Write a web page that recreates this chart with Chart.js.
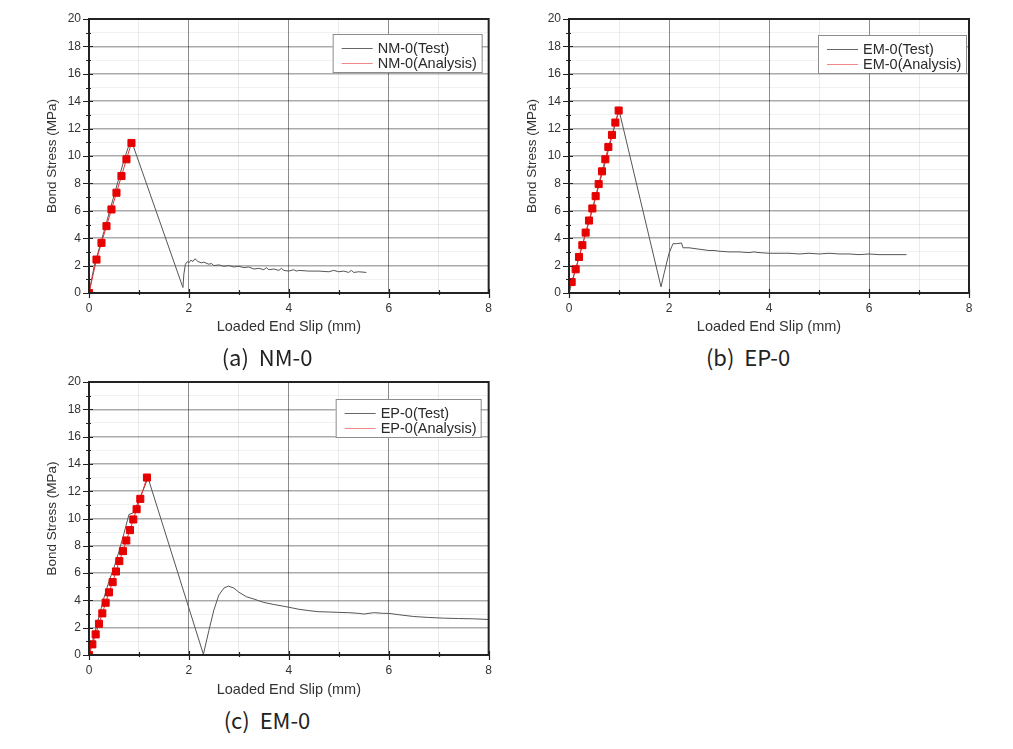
<!DOCTYPE html>
<html>
<head>
<meta charset="utf-8">
<script src="https://cdn.jsdelivr.net/npm/chart.js@4.4.1/dist/chart.umd.min.js"></script>
<style>
  body { margin: 0; background: #fff; width: 1013px; height: 749px; position: relative; overflow: hidden; }
  .panel { position: absolute; }
  .cap { position: absolute; font-family: "Noto Sans CJK KR", sans-serif; font-size: 22px; color: #222;
         transform: translate(-50%, -50%); white-space: pre; line-height: 1; }
</style>
</head>
<body>
<div class="panel" style="left:0;top:0"><canvas id="chartNM" width="500" height="340"></canvas></div>
<div class="panel" style="left:500px;top:0"><canvas id="chartEM" width="513" height="340"></canvas></div>
<div class="panel" style="left:0;top:363px"><canvas id="chartEP" width="500" height="340"></canvas></div>
<div class="cap" style="left:267px;top:356px">(a)  NM-0</div>
<div class="cap" style="left:748px;top:356px">(b)  EP-0</div>
<div class="cap" style="left:267px;top:719px">(c)  EM-0</div>
<script>
// axes
const slipMin = 0, slipMax = 8;
const stressMin = 0, stressMax = 20;

// (a) NM-0
const nmTestX = [0, 0.1, 0.2, 0.3, 0.4, 0.5, 0.6, 0.7, 0.8, 0.86, 1.88, 1.9, 1.93, 1.97, 2.0, 2.04, 2.08, 2.12, 2.18, 2.25, 2.3, 2.4, 2.45, 2.5, 2.6, 2.7, 2.8, 2.9, 3.0, 3.1, 3.2, 3.3, 3.4, 3.5, 3.55, 3.6, 3.7, 3.8, 3.85, 3.9, 4.0, 4.1, 4.15, 4.2, 4.4, 4.6, 4.8, 4.9, 5.0, 5.1, 5.2, 5.25, 5.3, 5.4, 5.55];
const nmTestY = [0, 1.9, 3.2, 4.5, 5.8, 7.1, 8.4, 9.7, 10.8, 11.0, 0.4, 1.4, 2.1, 2.3, 2.2, 2.4, 2.3, 2.5, 2.3, 2.2, 2.25, 2.1, 2.15, 2.0, 2.05, 1.95, 2.0, 1.9, 1.95, 1.85, 1.9, 1.75, 1.8, 1.7, 1.85, 1.7, 1.75, 1.65, 1.8, 1.65, 1.6, 1.7, 1.6, 1.65, 1.6, 1.6, 1.55, 1.65, 1.55, 1.6, 1.5, 1.65, 1.5, 1.55, 1.5];
const nmAnaX = [0, 0.15, 0.25, 0.35, 0.45, 0.55, 0.65, 0.75, 0.85];
const nmAnaY = [0, 2.44, 3.66, 4.88, 6.1, 7.32, 8.54, 9.76, 10.95];

// (b) EP-0 (legend EM-0)
const emTestX = [0, 0.1, 0.2, 0.3, 0.4, 0.5, 0.6, 0.7, 0.8, 0.9, 1.0, 1.84, 1.9, 2.0, 2.08, 2.15, 2.25, 2.28, 2.4, 2.5, 2.6, 2.7, 2.8, 2.9, 3.0, 3.2, 3.4, 3.6, 3.7, 3.8, 4.0, 4.2, 4.4, 4.6, 4.8, 5.0, 5.2, 5.4, 5.6, 5.8, 6.0, 6.2, 6.4, 6.6, 6.75];
const emTestY = [0, 1.3, 2.6, 3.9, 5.2, 6.5, 7.9, 9.2, 10.6, 12.0, 13.35, 0.45, 1.4, 2.9, 3.6, 3.6, 3.65, 3.3, 3.3, 3.25, 3.2, 3.15, 3.1, 3.1, 3.05, 3.0, 3.0, 2.95, 3.0, 2.95, 2.9, 2.9, 2.9, 2.85, 2.9, 2.85, 2.9, 2.85, 2.85, 2.8, 2.85, 2.8, 2.8, 2.8, 2.8];
const emAnaX = [0.053, 0.133, 0.2, 0.267, 0.333, 0.4, 0.467, 0.533, 0.593, 0.66, 0.727, 0.787, 0.86, 0.927, 0.993];
const emAnaY = [0.8, 1.73, 2.63, 3.49, 4.41, 5.29, 6.17, 7.07, 7.95, 8.88, 9.76, 10.66, 11.54, 12.44, 13.32];

// (c) EM-0 (legend EP-0)
const epTestX = [0, 0.1, 0.2, 0.3, 0.4, 0.5, 0.6, 0.7, 0.8, 0.88, 0.95, 1.05, 1.12, 1.18, 2.29, 2.4, 2.5, 2.6, 2.7, 2.79, 2.9, 3.0, 3.15, 3.3, 3.5, 3.7, 4.0, 4.2, 4.4, 4.6, 4.8, 5.0, 5.2, 5.4, 5.5, 5.7, 5.9, 6.0, 6.2, 6.5, 6.8, 7.1, 7.4, 7.7, 8.0];
const epTestY = [0, 1.4, 2.8, 4.2, 5.4, 6.4, 7.6, 8.9, 10.3, 10.4, 10.9, 11.8, 12.4, 13.0, 0.05, 1.8, 3.3, 4.4, 4.9, 5.05, 4.9, 4.6, 4.27, 4.1, 3.85, 3.7, 3.5, 3.35, 3.25, 3.17, 3.15, 3.12, 3.1, 3.05, 3.0, 3.1, 3.05, 3.05, 2.95, 2.82, 2.75, 2.7, 2.67, 2.65, 2.6];
const epAnaX = [0, 0.067, 0.133, 0.2, 0.267, 0.333, 0.4, 0.473, 0.54, 0.607, 0.68, 0.747, 0.82, 0.887, 0.953, 1.027, 1.16];
const epAnaY = [0, 0.78, 1.51, 2.29, 3.05, 3.83, 4.59, 5.34, 6.12, 6.88, 7.61, 8.39, 9.15, 9.93, 10.68, 11.44, 13.0];

const pts = (xs, ys) => xs.map((x, i) => ({ x: x, y: ys[i] }));

// frame, crossing ticks and the boxed legend
const framePlugin = {
  id: 'frame',
  afterDraw(chart, args, opts) {
    const ctx = chart.ctx;
    const a = chart.chartArea;
    const xs = chart.scales.x, ys = chart.scales.y;
    ctx.save();
    ctx.strokeStyle = '#222';
    ctx.lineWidth = 1.2;
    ctx.beginPath();
    for (let v = stressMin; v <= stressMax; v++) {
      const y = Math.round(ys.getPixelForValue(v)) + 0.5;
      const major = v % 2 === 0;
      ctx.moveTo(a.left - (major ? 6 : 3), y);
      ctx.lineTo(a.left + (major ? 4 : 2), y);
    }
    for (let v = slipMin; v <= slipMax; v++) {
      const x = Math.round(xs.getPixelForValue(v)) + 0.5;
      const major = v % 2 === 0;
      ctx.moveTo(x, a.bottom + (major ? 5 : 2));
      ctx.lineTo(x, a.bottom - (major ? 4 : 3));
    }
    ctx.stroke();
    ctx.lineWidth = 2;
    ctx.strokeRect(a.left, a.top, a.right - a.left, a.bottom - a.top);

    // legend box
    const bx = a.right - opts.right - opts.w, by = a.top + opts.top;
    ctx.fillStyle = '#fff';
    ctx.fillRect(bx, by, opts.w, 38);
    ctx.strokeStyle = '#8c8c8c';
    ctx.lineWidth = 1;
    ctx.strokeRect(bx + 0.5, by + 0.5, opts.w, 38);
    ctx.font = '14.5px "Liberation Sans", Arial, sans-serif';
    ctx.textBaseline = 'middle';
    ctx.textAlign = 'left';
    const rows = [[opts.labels[0], '#666', by + 14], [opts.labels[1], '#f08a8a', by + 29]];
    rows.forEach(([txt, col, y]) => {
      ctx.strokeStyle = col;
      ctx.beginPath();
      ctx.moveTo(bx + 9, y + 0.5);
      ctx.lineTo(bx + 40, y + 0.5);
      ctx.stroke();
      ctx.fillStyle = '#2a2a2a';
      ctx.fillText(txt, bx + 45, y + 1);
    });
    ctx.restore();
  }
};

function makeChart(id, testX, testY, anaX, anaY, cfg) {
  const ctx = document.getElementById(id).getContext('2d');
  return new Chart(ctx, {
    type: 'scatter',
    data: {
      datasets: [
        {
          label: cfg.labels[0],
          data: pts(testX, testY),
          showLine: true,
          borderColor: '#555',
          borderWidth: 1,
          pointRadius: 0,
          order: 2
        },
        {
          label: cfg.labels[1],
          data: pts(anaX, anaY),
          showLine: true,
          borderColor: '#e83030',
          borderWidth: 1,
          backgroundColor: '#e60000',
          pointBorderColor: '#e60000',
          pointStyle: 'rect',
          pointRadius: 5,
          order: 1
        }
      ]
    },
    options: {
      responsive: false,
      animation: false,
      layout: { padding: { left: 0, top: 19, right: cfg.padRight, bottom: 0 } },
      plugins: {
        legend: { display: false },
        tooltip: { enabled: false },
        frame: { labels: cfg.labels, w: cfg.legendW, right: cfg.legendRight, top: cfg.legendTop }
      },
      scales: {
        x: {
          type: 'linear',
          min: slipMin,
          max: slipMax,
          afterFit: s => { s.height = cfg.xHeight; },
          ticks: {
            stepSize: 1,
            autoSkip: false,
            maxRotation: 0,
            padding: 8,
            color: '#333',
            font: { family: '"Liberation Sans", Arial, sans-serif', size: 12 },
            callback: v => (v % 2 === 0 ? v : '')
          },
          grid: {
            drawTicks: false,
            color: c => (c.tick.value % 2 ? 'rgba(0,0,0,0.08)' : 'rgba(0,0,0,0.45)'),
            lineWidth: 1
          },
          border: { display: false },
          title: {
            display: true,
            text: 'Loaded End Slip (mm)',
            color: '#333',
            font: { family: '"Liberation Sans", Arial, sans-serif', size: 14.5 },
            padding: { top: 0, bottom: 4 }
          }
        },
        y: {
          type: 'linear',
          min: stressMin,
          max: stressMax,
          afterFit: s => { s.width = cfg.yWidth; },
          ticks: {
            stepSize: 1,
            autoSkip: false,
            padding: 8,
            color: '#333',
            font: { family: '"Liberation Sans", Arial, sans-serif', size: 12 },
            callback: v => (v % 2 === 0 ? v : '')
          },
          grid: {
            drawTicks: false,
            color: c => (c.tick.value % 2 ? 'rgba(0,0,0,0.05)' : 'rgba(0,0,0,0.33)'),
            lineWidth: c => (c.tick.value % 2 ? 1 : 1.5)
          },
          border: { display: false },
          title: {
            display: true,
            text: 'Bond Stress (MPa)',
            color: '#333',
            font: { family: '"Liberation Sans", Arial, sans-serif', size: 13.5 },
            padding: { top: cfg.yTitlePad, bottom: 0 }
          }
        }
      }
    },
    plugins: [framePlugin]
  });
}

makeChart('chartNM', nmTestX, nmTestY, nmAnaX, nmAnaY, {
  labels: ['NM-0(Test)', 'NM-0(Analysis)'],
  padRight: 11, yWidth: 89, xHeight: 47, yTitlePad: 44,
  legendW: 149, legendRight: 7, legendTop: 15
});
makeChart('chartEM', emTestX, emTestY, emAnaX, emAnaY, {
  labels: ['EM-0(Test)', 'EM-0(Analysis)'],
  padRight: 44, yWidth: 69, xHeight: 47, yTitlePad: 24,
  legendW: 148, legendRight: 3, legendTop: 16
});
makeChart('chartEP', epTestX, epTestY, epAnaX, epAnaY, {
  labels: ['EP-0(Test)', 'EP-0(Analysis)'],
  padRight: 11, yWidth: 89, xHeight: 48, yTitlePad: 44,
  legendW: 145, legendRight: 8, legendTop: 17
});
</script>
</body>
</html>
